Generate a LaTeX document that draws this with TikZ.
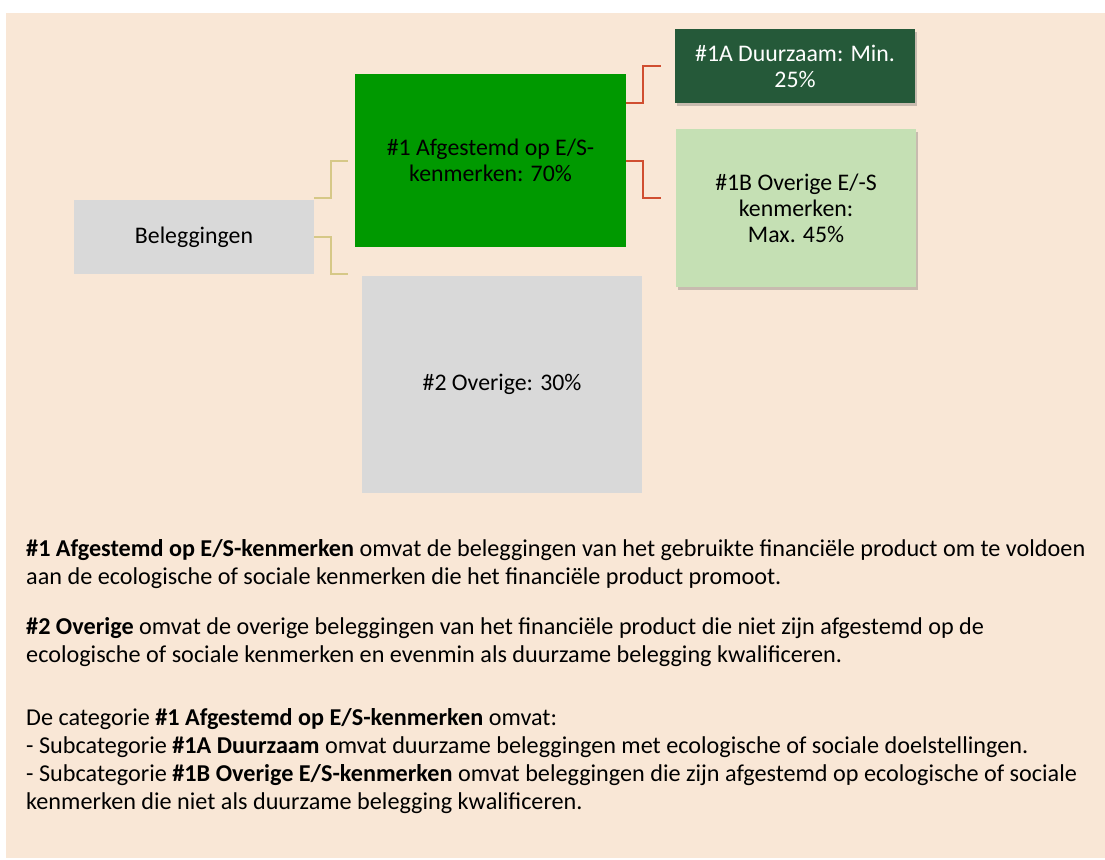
\documentclass[tikz,border=0pt]{standalone}
\usepackage{fontspec}
\setmainfont{Carlito}
\usetikzlibrary{shadows}
\definecolor{bg}{HTML}{F9E7D6}
\definecolor{greyc}{HTML}{D9D9D9}
\definecolor{greenc}{HTML}{009900}
\definecolor{darkg}{HTML}{255939}
\definecolor{lightg}{HTML}{C5E0B4}
\definecolor{tanc}{HTML}{D6C887}
\definecolor{redc}{HTML}{D04E30}
\tikzset{
  box/.style={inner sep=0pt, align=center, font=\fontsize{23.8}{26}\selectfont},
  shade box/.style={drop shadow={opacity=0.28, shadow xshift=2pt, shadow yshift=-3pt, fill=black!70}},
  tanline/.style={draw=tanc, line width=2pt},
  redline/.style={draw=redc, line width=2pt},
  para/.style={anchor=base west, inner sep=0pt, align=left, font=\fontsize{24.2}{27.7}\selectfont}
}
\begin{document}
\begin{tikzpicture}[x=1pt,y=-1pt]
\useasboundingbox (0,0) rectangle (1105,859);
\fill[bg] (6,13) rectangle (1105,858);
% boxes
\node[box, fill=greyc, minimum width=240pt, minimum height=74pt] (bel) at (194,237) {Beleggingen};
\node[box, fill=greenc, minimum width=271pt, minimum height=173pt] (g1) at (490.5,160.5) {\#1 Afgestemd op E/S-\\kenmerken: 70\%};
\node[box, fill=greyc, minimum width=280pt, minimum height=217pt] (ov) at (502,384.5) {\#2 Overige: 30\%};
\node[box, shade box, fill=darkg, text=white, minimum width=240pt, minimum height=74pt] (a) at (795,66) {\#1A Duurzaam: Min.\\25\%};
\node[box, shade box, fill=lightg, minimum width=240pt, minimum height=158pt] (b) at (796,208) {\#1B Overige E/-S\\kenmerken:\\Max. 45\%};
% connector end points
\coordinate (t1) at ([xshift=-7pt]g1.west);
\coordinate (t2) at ([xshift=-14pt,yshift=2pt]ov.north west);
\coordinate (r1) at ([xshift=-14pt]a.west);
\coordinate (r2) at ([xshift=-15pt,yshift=10pt]b.west);
% connectors
\draw[tanline] ([yshift=39pt]bel.east) -- ++(17,0) |- (t1);
\draw[tanline] (bel.east) -- ++(17,0) |- (t2);
\draw[redline] ([yshift=57.5pt]g1.east) -- ++(17,0) |- (r1);
\draw[redline] (g1.east) -- ++(17,0) |- (r2);
% text (anchor base = baseline of the last line)
\node[para] (p1) at (26,584) {\textbf{\#1 Afgestemd op E/S-kenmerken} omvat de beleggingen van het gebruikte financiële product om te voldoen\\aan de ecologische of sociale kenmerken die het financiële product promoot.};
\node[para] (p2) at (26,662) {\textbf{\#2 Overige} omvat de overige beleggingen van het financiële product die niet zijn afgestemd op de\\ecologische of sociale kenmerken en evenmin als duurzame belegging kwalificeren.};
\node[para] (p3) at (26,809) {De categorie \textbf{\#1 Afgestemd op E/S-kenmerken} omvat:\\- Subcategorie \textbf{\#1A Duurzaam} omvat duurzame beleggingen met ecologische of sociale doelstellingen.\\- Subcategorie \textbf{\#1B Overige E/S-kenmerken} omvat beleggingen die zijn afgestemd op ecologische of sociale\\kenmerken die niet als duurzame belegging kwalificeren.};
\end{tikzpicture}
\end{document}
